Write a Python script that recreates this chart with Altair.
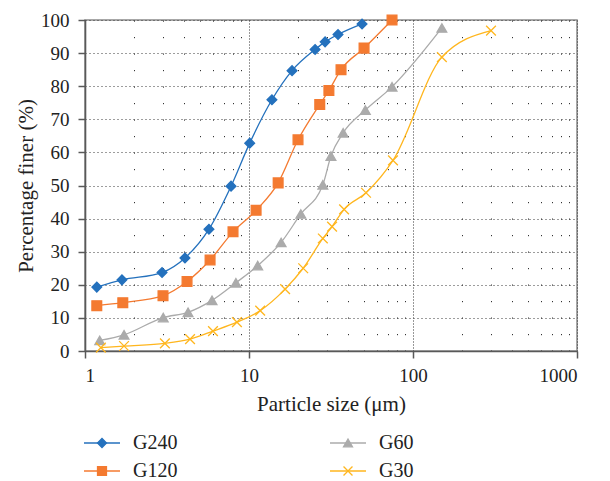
import altair as alt
import pandas as pd

series_names = ["G240", "G120", "G60", "G30"]

g240_x = [1.18, 1.68, 2.95, 4.07, 5.7, 7.77, 10.1, 13.8, 18.3, 25.3, 29.1, 34.9, 48.9]
g240_y = [19.3, 21.5, 23.7, 28.1, 36.8, 49.8, 62.8, 75.9, 84.7, 91.1, 93.4, 95.6, 98.8]

g120_x = [1.18, 1.7, 2.99, 4.19, 5.79, 7.99, 11.05, 15.06, 19.9, 27.0, 30.7, 36.4, 50.3, 74.5]
g120_y = [13.7, 14.6, 16.7, 21.0, 27.5, 36.0, 42.5, 50.8, 63.8, 74.5, 78.7, 85.0, 91.5, 100.0]

g60_x = [1.23, 1.73, 3.0, 4.25, 5.95, 8.32, 11.3, 15.7, 20.7, 28.2, 31.6, 37.5, 51.2, 74.5, 150]
g60_y = [3.2, 4.9, 10.1, 11.7, 15.3, 20.6, 25.8, 32.8, 41.4, 50.2, 58.9, 65.9, 72.8, 79.8, 97.6]

g30_x = [1.25, 1.73, 3.07, 4.37, 6.03, 8.44, 11.7, 16.6, 21.4, 28.2, 32.1, 38.0, 51.7, 75.5, 150, 299]
g30_y = [1.0, 1.5, 2.3, 3.6, 6.0, 8.7, 12.2, 18.7, 25.0, 34.0, 37.6, 42.8, 47.8, 57.6, 88.8, 96.8]

x_ticks = [1, 2, 3, 4, 5, 6, 7, 8, 9, 10, 20, 30, 40, 50, 60, 70, 80, 90,
           100, 200, 300, 400, 500, 600, 700, 800, 900, 1000]
y_ticks = [0, 10, 20, 30, 40, 50, 60, 70, 80, 90, 100]

colors = ["#2471BD", "#F47A30", "#ABABAB", "#FFB61E"]
shapes = ["diamond", "square", "triangle-up", "M-1,-1L1,1M-1,1L1,-1"]

# legend table: two columns, two rows
legend_col = [0, 0, 1, 1]
legend_row = [0, 1, 0, 1]

rows = []
for name, xs, ys in [("G240", g240_x, g240_y), ("G120", g120_x, g120_y),
                     ("G60", g60_x, g60_y), ("G30", g30_x, g30_y)]:
    for a, b in zip(xs, ys):
        rows.append({"series": name, "size": a, "pct": b})
df = pd.DataFrame(rows)
legend_df = pd.DataFrame({"series": series_names, "col": legend_col, "row": legend_row})

FONT = "Liberation Serif"
TXT = "#222222"
major_test = "abs(log(datum.value)/LN10 - round(log(datum.value)/LN10)) < 0.000001"

x_enc = alt.X(
    "size:Q",
    scale=alt.Scale(type="log", domain=[1, 1000], nice=False),
    axis=alt.Axis(
        values=x_ticks,
        title="Particle size (μm)",
        format="d",
        labelExpr=f"{major_test} ? datum.label : ''",
        grid=True,
        gridColor="#333333",
        gridWidth=1,
        gridDash={"condition": {"test": major_test, "value": [1, 2]}, "value": [1.2, 15.3]},
        tickOpacity={"condition": {"test": major_test, "value": 1}, "value": 0},
        tickSize=7,
        tickColor="#595959",
        tickWidth=1.5,
        domainColor="#595959",
        domainWidth=1.6,
        labelFont=FONT,
        labelFontSize=19,
        labelColor=TXT,
        labelPadding=8,
        titleFont=FONT,
        titleFontSize=21,
        titleFontWeight="normal",
        titleColor=TXT,
        titlePadding=8,
    ),
)
y_enc = alt.Y(
    "pct:Q",
    scale=alt.Scale(domain=[0, 100], nice=False),
    axis=alt.Axis(
        values=y_ticks,
        title="Percentage finer (%)",
        grid=True,
        gridColor="#3a3a3a",
        gridWidth=1,
        gridDash=[1, 3],
        tickSize=7,
        tickColor="#595959",
        tickWidth=1.5,
        domainColor="#595959",
        domainWidth=1.6,
        labelFont=FONT,
        labelFontSize=19,
        labelColor=TXT,
        labelPadding=9,
        titleFont=FONT,
        titleFontSize=21,
        titleFontWeight="normal",
        titleColor=TXT,
        titlePadding=4,
    ),
)

color_scale = alt.Scale(domain=series_names, range=colors)
shape_scale = alt.Scale(domain=series_names, range=shapes)

base = alt.Chart(df)

lines = base.mark_line(interpolate="monotone", strokeWidth=1.3).encode(
    x=x_enc, y=y_enc,
    color=alt.Color("series:N", scale=color_scale, legend=None),
    detail="series:N",
)

points = base.mark_point(filled=True, size=95, opacity=1, strokeWidth=1.3).encode(
    x=x_enc, y=y_enc,
    color=alt.Color("series:N", scale=color_scale, legend=None),
    stroke=alt.Stroke("series:N", scale=color_scale, legend=None),
    shape=alt.Shape("series:N", scale=shape_scale, legend=None),
)

plot = alt.layer(lines, points)

# legend drawn from the legend table through its own scales
lx = alt.X("col:Q", scale=alt.Scale(domain=[0, 1], range=[17, 263]), axis=None)
ly = alt.Y("row:Q", scale=alt.Scale(domain=[0, 1], range=[423, 451]), axis=None)
lbase = alt.Chart(legend_df)

leg_line = lbase.mark_tick(orient="horizontal", size=36, thickness=1.3, opacity=1).encode(
    x=lx, y=ly, color=alt.Color("series:N", scale=color_scale, legend=None)
)
leg_pts = lbase.mark_point(filled=True, size=80, opacity=1, strokeWidth=1.3).encode(
    x=lx, y=ly,
    color=alt.Color("series:N", scale=color_scale, legend=None),
    stroke=alt.Stroke("series:N", scale=color_scale, legend=None),
    shape=alt.Shape("series:N", scale=shape_scale, legend=None),
)
leg_txt = lbase.mark_text(align="left", baseline="middle", dx=31, font=FONT, fontSize=20, color=TXT).encode(
    x=lx, y=ly, text="series:N"
)
legend = alt.layer(leg_line, leg_pts, leg_txt)

chart = (
    alt.layer(plot, legend)
    .resolve_scale(x="independent", y="independent")
    .properties(
        width=492,
        height=331,
        padding={"left": 85, "top": 20, "right": 33, "bottom": 130},
        autosize=alt.AutoSizeParams(type="none"),
        background="white",
    )
    .configure_view(stroke="#8a8a8a", strokeWidth=1.5)
)

chart.save("out.html", embed_options={"renderer": "svg", "actions": False})
